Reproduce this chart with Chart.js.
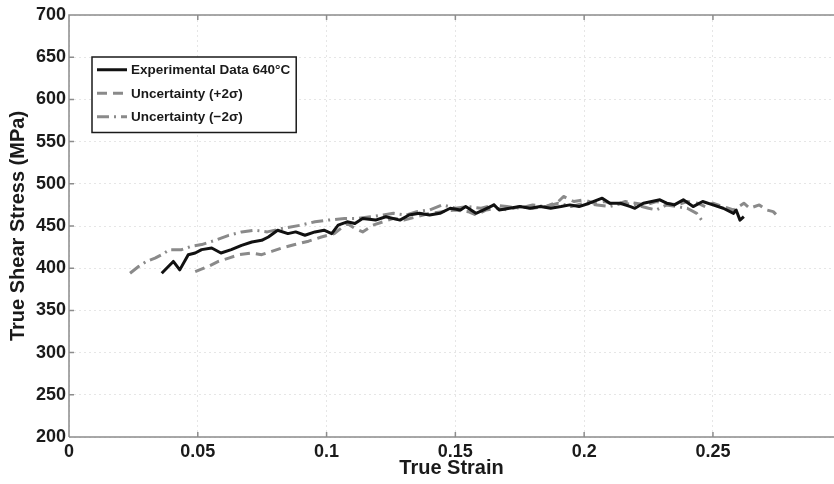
<!DOCTYPE html>
<html>
<head>
<meta charset="utf-8">
<script src="https://cdn.jsdelivr.net/npm/chart.js@4.4.1/dist/chart.umd.min.js"></script>
<style>
  html, body { margin: 0; padding: 0; background: #fff; overflow: hidden; }
  #wrap { width: 834px; height: 484px; }
</style>
</head>
<body>
<div id="wrap"><canvas id="chart" width="834" height="484"></canvas></div>
<script>
// Experimental curve, 640°C
const expStrain = [0.036, 0.0405, 0.043, 0.0463, 0.049, 0.0515, 0.0554, 0.059, 0.063, 0.067,
  0.071, 0.0748, 0.0774, 0.081, 0.085, 0.088, 0.0916, 0.0955, 0.099, 0.102,
  0.1045, 0.108, 0.111, 0.114, 0.119, 0.123, 0.1285, 0.132, 0.136, 0.140,
  0.144, 0.148, 0.152, 0.154, 0.158, 0.161, 0.165, 0.167, 0.171, 0.175,
  0.179, 0.183, 0.187, 0.191, 0.1945, 0.198, 0.202, 0.207, 0.210, 0.214,
  0.218, 0.2197, 0.223, 0.2294, 0.232, 0.235, 0.2385, 0.2423, 0.246, 0.250,
  0.254, 0.258, 0.259, 0.2605, 0.262];
const expStress = [394, 408, 398, 416, 418, 422, 424, 418, 422, 427,
  431, 433, 437, 445, 441, 443, 439, 443, 445, 441,
  451, 455, 453, 459, 457, 461, 457, 463, 465, 463,
  465, 471, 469, 473, 465, 469, 475, 469, 471, 473,
  471, 473, 471, 473, 475, 473, 477, 483, 477, 477,
  473, 471, 477, 481, 477, 475, 481, 473, 479, 475,
  471, 465, 469, 457, 461];

// Uncertainty (+2 sigma), dashed
const plusStrain = [0.049, 0.054, 0.058, 0.062, 0.066, 0.071, 0.0748, 0.0787, 0.0826, 0.0877,
  0.093, 0.098, 0.103, 0.108, 0.111, 0.114, 0.118, 0.122, 0.126, 0.130,
  0.135, 0.140, 0.145, 0.150, 0.155, 0.158, 0.162, 0.166, 0.170, 0.175,
  0.180, 0.185, 0.190, 0.192, 0.196, 0.1997, 0.204, 0.208, 0.212, 0.216,
  0.220, 0.224, 0.228, 0.232, 0.236, 0.240, 0.244, 0.247, 0.250, 0.254,
  0.258, 0.262, 0.2643, 0.268, 0.2708, 0.2734, 0.276];
const plusStress = [396, 402, 408, 412, 416, 418, 416, 420, 424, 428,
  432, 437, 441, 453, 447, 443, 451, 455, 459, 457,
  461, 465, 467, 469, 467, 463, 469, 471, 469, 473,
  471, 473, 479, 485, 479, 481, 477, 479, 475, 479,
  477, 475, 479, 477, 475, 479, 477, 473, 477, 473,
  469, 477, 471, 475, 469, 467, 459];

// Uncertainty (-2 sigma), dash-dot
const minusStrain = [0.0237, 0.027, 0.030, 0.0334, 0.036, 0.039, 0.0437, 0.0476, 0.0515, 0.0567,
  0.062, 0.067, 0.072, 0.077, 0.0826, 0.090, 0.0955, 0.1007, 0.107, 0.112,
  0.117, 0.122, 0.126, 0.131, 0.135, 0.140, 0.145, 0.150, 0.155, 0.160,
  0.165, 0.170, 0.175, 0.180, 0.185, 0.190, 0.195, 0.200, 0.205, 0.210,
  0.215, 0.220, 0.225, 0.228, 0.232, 0.236, 0.240, 0.2437, 0.2456];
const minusStress = [394, 402, 408, 412, 416, 422, 422, 426, 428, 433,
  439, 443, 445, 443, 447, 451, 455, 457, 459, 459,
  461, 463, 465, 463, 467, 469, 475, 471, 473, 471,
  475, 473, 471, 475, 473, 477, 473, 477, 475, 473,
  477, 475, 471, 469, 475, 473, 471, 465, 457];

const xTicks = [0, 0.05, 0.1, 0.15, 0.2, 0.25];
const yTicks = [200, 250, 300, 350, 400, 450, 500, 550, 600, 650, 700];
const seriesLabels = ['Experimental Data 640\u00B0C', 'Uncertainty (+2\u03C3)', 'Uncertainty (\u22122\u03C3)'];

const toPoints = (xs, ys) => xs.map((x, i) => ({ x: x, y: ys[i] }));

Chart.defaults.font.family = "'Liberation Sans', Arial, Helvetica, sans-serif";
Chart.defaults.color = '#1a1a1a';

// axes box, inward ticks and the boxed legend
const frameAndLegend = {
  id: 'frameAndLegend',
  afterDatasetsDraw(chart) {
    const { ctx, chartArea: a, scales: { x, y } } = chart;
    ctx.save();
    ctx.strokeStyle = '#8c8c8c';
    ctx.lineWidth = 1.5;
    ctx.beginPath();
    ctx.moveTo(a.left, a.bottom); ctx.lineTo(a.right, a.bottom);
    ctx.moveTo(a.left, a.bottom); ctx.lineTo(a.left, a.top); ctx.lineTo(a.right, a.top);
    x.ticks.forEach(t => {
      const px = x.getPixelForValue(t.value);
      ctx.moveTo(px, a.bottom); ctx.lineTo(px, a.bottom - 5);
      ctx.moveTo(px, a.top); ctx.lineTo(px, a.top + 5);
    });
    y.ticks.forEach(t => {
      const py = y.getPixelForValue(t.value);
      ctx.moveTo(a.left, py); ctx.lineTo(a.left + 5, py);
    });
    ctx.stroke();

    // legend
    const lx = 92, ly = 57, rowH = 23.5, sample = 30;
    ctx.font = "bold 13.5px 'Liberation Sans', Arial, sans-serif";
    const textW = Math.max(...chart.data.datasets.map(d => ctx.measureText(d.label).width));
    const w = 5 + sample + 5 + textW + 5;
    const h = rowH * chart.data.datasets.length + 5;
    ctx.fillStyle = '#fff';
    ctx.fillRect(lx, ly, w, h);
    ctx.strokeStyle = '#1a1a1a';
    ctx.lineWidth = 1.5;
    ctx.setLineDash([]);
    ctx.strokeRect(lx, ly, w, h);
    chart.data.datasets.forEach((d, i) => {
      const cy = ly + 1 + rowH * i + rowH / 2;
      ctx.strokeStyle = d.borderColor;
      ctx.lineWidth = d.borderWidth;
      ctx.setLineDash(d.borderDash || []);
      ctx.beginPath();
      ctx.moveTo(lx + 5, cy); ctx.lineTo(lx + 5 + sample, cy);
      ctx.stroke();
      ctx.setLineDash([]);
      ctx.fillStyle = '#1a1a1a';
      ctx.textBaseline = 'middle';
      ctx.fillText(d.label, lx + 5 + sample + 4, cy + 1);
    });
    ctx.restore();
  }
};

new Chart(document.getElementById('chart'), {
  type: 'line',
  data: {
    datasets: [
      { label: seriesLabels[0], data: toPoints(expStrain, expStress), borderColor: '#111', borderWidth: 3, borderDash: [] },
      { label: seriesLabels[1], data: toPoints(plusStrain, plusStress), borderColor: '#8a8a8a', borderWidth: 3, borderDash: [10, 6] },
      { label: seriesLabels[2], data: toPoints(minusStrain, minusStress), borderColor: '#8a8a8a', borderWidth: 3, borderDash: [12, 5, 2, 5] }
    ]
  },
  options: {
    responsive: false,
    animation: false,
    devicePixelRatio: 1,
    layout: { padding: { top: 15, right: 0, left: 0, bottom: 0 } },
    elements: { point: { radius: 0 }, line: { tension: 0, borderJoinStyle: 'round' } },
    plugins: { legend: { display: false }, tooltip: { enabled: false } },
    scales: {
      x: {
        type: 'linear',
        min: 0,
        max: 0.297,
        afterBuildTicks: s => { s.ticks = xTicks.map(v => ({ value: v })); },
        afterFit: s => { s.height = 47; },
        ticks: { font: { size: 18, weight: 'bold' }, padding: 4, maxRotation: 0, callback: v => String(v) },
        grid: { color: '#e6e6e6', lineWidth: 1, drawTicks: false },
        border: { display: false, dash: [2, 3] },
        title: { display: true, text: 'True Strain', font: { size: 20, weight: 'bold' }, padding: { top: 0, bottom: 4 } }
      },
      y: {
        min: 200,
        max: 700,
        afterBuildTicks: s => { s.ticks = yTicks.map(v => ({ value: v })); },
        afterFit: s => { s.width = 69; },
        ticks: { font: { size: 18, weight: 'bold' }, padding: 3 },
        grid: { color: '#e6e6e6', lineWidth: 1, drawTicks: false },
        border: { display: false, dash: [2, 3] },
        title: { display: true, text: 'True Shear Stress (MPa)', font: { size: 20, weight: 'bold' }, padding: { top: 6, bottom: 0 } }
      }
    }
  },
  plugins: [frameAndLegend]
});
</script>
</body>
</html>
